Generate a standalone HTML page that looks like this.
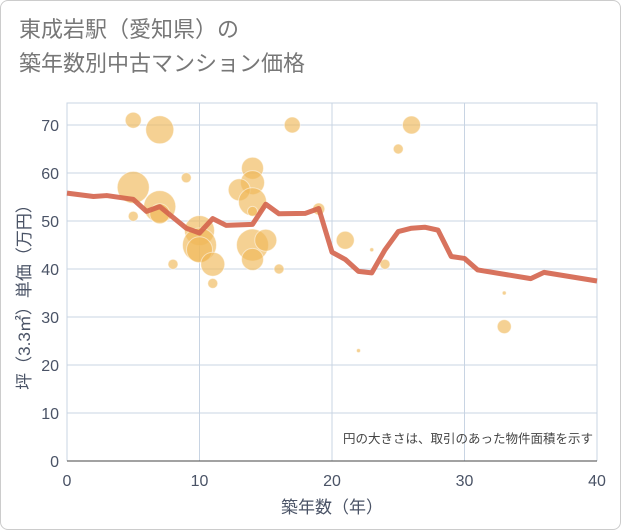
<!DOCTYPE html>
<html><head><meta charset="utf-8"><style>
body{margin:0;background:#fff;}
#wrap{position:relative;width:619px;height:528px;border:1px solid #ccc;border-radius:8px;overflow:hidden;font-family:"Liberation Sans","Noto Sans CJK JP",sans-serif;}
h1{position:absolute;left:18px;top:12px;margin:0;font-size:22px;font-weight:normal;color:#777;line-height:34px;}
</style></head><body>
<div id="wrap">
<h1>東成岩駅（愛知県）の<br>築年数別中古マンション価格</h1>
<svg id="svg" width="621" height="530" style="position:absolute;left:-1px;top:-1px"></svg>
</div>
<script>
const xTicks=[0,10,20,30,40];
const yTicks=[0,10,20,30,40,50,60,70];
const lineX=[0,2,3,5,6,7,9,10,11,12,14,15,16,18,19,20,21,22,23,24,25,26,27,28,29,30,31,35,36,40];
const lineY=[55.8,55.1,55.3,54.5,52,53,48.5,47.5,50.5,49.1,49.3,53.5,51.5,51.6,52.6,43.5,42,39.5,39.2,44,47.8,48.5,48.7,48.1,42.6,42.2,39.8,38,39.3,37.5];
const bubX=[5,7,17,26,25,9,14,14,13,14,14,5,7,7,5,10,10,10,11,11,8,14,14,15,16,19,21,23,24,22,33,33];
const bubY=[71,69,70,70,65,59,61,58,56.5,54,52,57,53,51.5,51,48,45,44,41,37,41,45,42,46,40,52.5,46,44,41,23,35,28];
const bubR=[8,14,8,9,5,5,11,12,11,14,5,16,16,10,5,15,17,13,12,5,5,16,11,11,5,6,9,2,5,2,2,7];
const X0=67,X1=597,Y0=461,Y1=125,YT=103;
const sx=v=>X0+(v-0)/40*(X1-X0);
const sy=v=>Y0-(v-0)/70*(Y0-Y1);
const svg=document.getElementById('svg');
const NS='http://www.w3.org/2000/svg';
const TC='#4a5366';
function mk(t,a){const e=document.createElementNS(NS,t);for(const k in a)e.setAttribute(k,a[k]);svg.appendChild(e);return e;}
yTicks.forEach(v=>{
 const l=mk('line',{x1:X0,x2:X1,y1:sy(v),y2:sy(v),stroke:'#c8d4e3','stroke-width':1});
 
 
 const t=mk('text',{x:X0-8,y:sy(v)+6,'text-anchor':'end','font-size':16,fill:TC});
 t.textContent=v;
 
 
});
xTicks.forEach(v=>{
 const l=mk('line',{x1:sx(v),x2:sx(v),y1:YT,y2:Y0,stroke:'#c8d4e3','stroke-width':1});
 
 
 const t=mk('text',{x:sx(v),y:Y0+25,'text-anchor':'middle','font-size':16,fill:TC});
 t.textContent=v;
 
 
});
const fr=mk('polyline',{points:`${X0},${Y0} ${X0},${YT} ${X1},${YT} ${X1},${Y0}`,fill:'none',stroke:'#c8d4e3','stroke-width':1});


const ax=mk('line',{x1:X0,x2:X1,y1:Y0,y2:Y0,stroke:'#444','stroke-width':1});


bubX.forEach((v,i)=>{
 const c=mk('circle',{cx:sx(v),cy:sy(bubY[i]),r:bubR[i],fill:'#f0b959','fill-opacity':0.65,stroke:'#fff','stroke-opacity':0.5});
 
 
});
const p=mk('polyline',{points:lineX.map((v,i)=>sx(v)+','+sy(lineY[i])).join(' '),fill:'none',stroke:'#d4644c','stroke-opacity':0.9,'stroke-width':5,'stroke-linejoin':'round'});


const n=mk('text',{x:593,y:443,'text-anchor':'end','font-size':12.5,fill:'#444'});
n.textContent='円の大きさは、取引のあった物件面積を示す';


const xt=mk('text',{x:(X0+X1)/2,y:513,'text-anchor':'middle','font-size':17,fill:TC});
xt.textContent='築年数（年）';


const yt=mk('text',{x:0,y:0,'text-anchor':'middle','font-size':17,fill:TC,transform:`translate(30,${(Y0+Y1)/2}) rotate(-90)`});
yt.textContent='坪（3.3㎡）単価（万円）';


</script>
</body></html>
